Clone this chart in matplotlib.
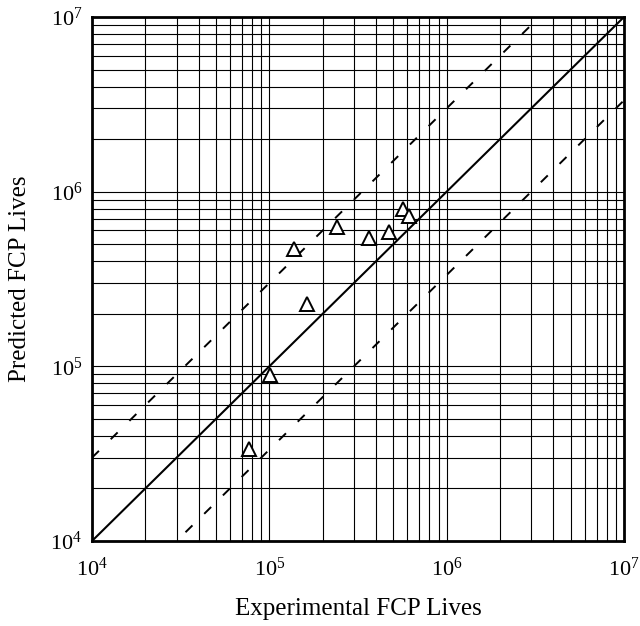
import numpy as np
import matplotlib.pyplot as plt

# measured vs predicted fatigue crack propagation lives
experimental = [7.7e4, 1.01e5, 1.64e5, 1.37e5, 2.42e5, 3.67e5, 4.7e5, 5.64e5, 6.1e5]
predicted = [3.36e4, 8.9e4, 2.26e5, 4.72e5, 6.3e5, 5.46e5, 5.9e5, 8.0e5, 7.3e5]

decades = [1e4, 1e5, 1e6, 1e7]
decade_labels = [r'$10^{4}$', r'$10^{5}$', r'$10^{6}$', r'$10^{7}$']

lo, hi = 1e4, 1e7
band = 3.0  # scatter band factor

plt.rcParams['font.family'] = ['Liberation Serif', 'DejaVu Serif']
plt.rcParams['mathtext.fontset'] = 'custom'
plt.rcParams['mathtext.rm'] = 'Liberation Serif'
plt.rcParams['mathtext.it'] = 'Liberation Serif:italic'

fig = plt.figure(figsize=(6.4, 6.26), dpi=100)
ax = fig.add_axes([92 / 640, 1 - 541 / 626, 532 / 640, 524 / 626])
ax.set_xscale('log')
ax.set_yscale('log')
ax.set_xlim(lo, hi)
ax.set_ylim(lo, hi)

ax.grid(True, which='both', color='black', lw=0.8)

xs = np.array([lo, hi])
ax.plot(xs, xs, color='black', lw=1.5)
ax.plot(xs, xs * band, color='black', lw=1.4, dashes=(5, 8.5))
ax.plot(xs, xs / band, color='black', lw=1.4, dashes=(5, 8.5))

ax.plot(experimental, predicted, linestyle='none', marker='^', ms=10,
        mfc='white', mec='black', mew=1.4)

for s in ax.spines.values():
    s.set_linewidth(2)
ax.set_xticks(decades, labels=decade_labels)
ax.set_yticks(decades, labels=decade_labels)
ax.tick_params(which='both', length=0, labelsize=16)
ax.tick_params(axis='x', pad=12)
ax.tick_params(axis='y', pad=7)

ax.set_xlabel('Experimental FCP Lives', fontsize=18, labelpad=12)
ax.set_ylabel('Predicted FCP Lives', fontsize=18, labelpad=14)

fig.savefig('out.png', dpi=100)
